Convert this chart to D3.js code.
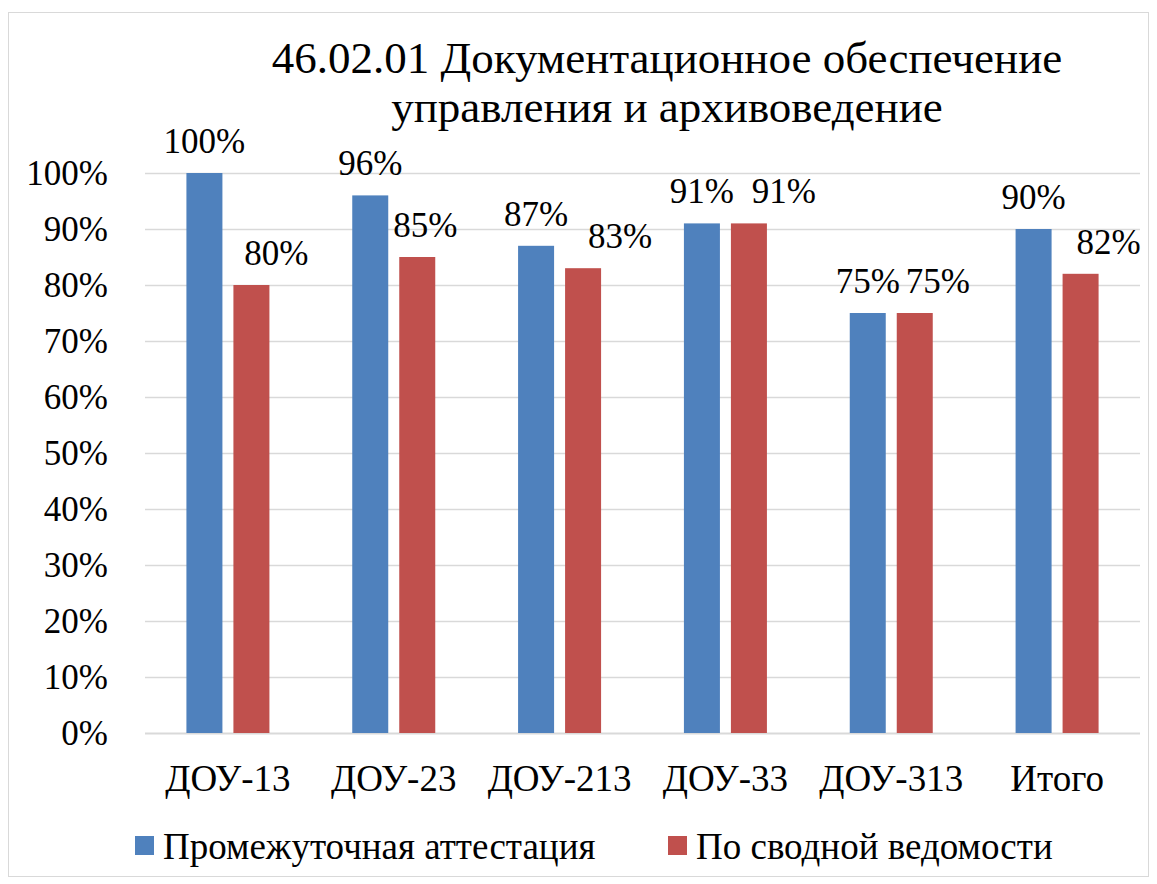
<!DOCTYPE html>
<html>
<head>
<meta charset="utf-8">
<script src="https://cdn.jsdelivr.net/npm/d3@7"></script>
<style>
  body { margin: 0; background: #fff; }
</style>
</head>
<body>
<div id="chart"></div>
<script>
// data
const categories = ['ДОУ-13', 'ДОУ-23', 'ДОУ-213', 'ДОУ-33', 'ДОУ-313', 'Итого'];
const seriesNames = ['Промежуточная аттестация', 'По сводной ведомости'];
const interim = [100, 96, 87, 91, 75, 90];
const summary = [80, 85, 83, 91, 75, 82];
const yTicks = [0, 10, 20, 30, 40, 50, 60, 70, 80, 90, 100];
const titleLines = ['46.02.01 Документационное обеспечение', 'управления и архивоведение'];

// Excel moved some labels sideways so they don't collide
const summaryLabelNudge = [25, 8, 37, 35, 23, 28];

const colors = ['#4F81BD', '#C0504D'];

var fontFamily = '"Liberation Serif", Tinos, "Times New Roman", "DejaVu Serif", serif';

var width = 1157, height = 884;
var plot = { left: 145, right: 1140, top: 173, bottom: 733 };

var svg = d3.select('#chart').append('svg')
  .attr('width', width)
  .attr('height', height)
  .attr('font-family', fontFamily);

// outer border
svg.append('rect')
  .attr('x', 8.5).attr('y', 12.5)
  .attr('width', 1140).attr('height', 864)
  .attr('fill', 'none')
  .attr('stroke', '#d9d9d9');

var x0 = d3.scaleBand()
  .domain(categories)
  .range([plot.left, plot.right])
  .padding(0);

var x1 = d3.scaleBand()
  .domain([0, 1])
  .range([-41.5, 41.5])
  .paddingInner(0.234);

var y = d3.scaleLinear()
  .domain([0, 100])
  .range([plot.bottom, plot.top]);

// gridlines
svg.append('g')
  .selectAll('line')
  .data(yTicks)
  .enter()
  .append('line')
    .attr('x1', plot.left).attr('x2', plot.right)
    .attr('y1', d => Math.round(y(d)) + 0.5)
    .attr('y2', d => Math.round(y(d)) + 0.5)
    .attr('stroke', '#d9d9d9')
    .attr('stroke-width', d => d === 0 ? 2 : 1.5);

// y tick labels
svg.append('g')
  .selectAll('text')
  .data(yTicks)
  .enter()
  .append('text')
    .attr('x', 108)
    .attr('y', d => y(d) + 12)
    .attr('text-anchor', 'end')
    .style('font-size', '35px')
    .text(d => d + '%');

// bars
var allSeries = [interim, summary];
allSeries.forEach(function (vals, s) {
  var g = svg.append('g');
  g.selectAll('rect')
    .data(vals)
    .enter()
    .append('rect')
      .attr('x', (d, i) => x0(categories[i]) + x0.bandwidth() / 2 + x1(s))
      .attr('y', d => y(d))
      .attr('width', x1.bandwidth())
      .attr('height', d => y(0) - y(d))
      .attr('fill', colors[s]);

  g.selectAll('text')
    .data(vals)
    .enter()
    .append('text')
      .attr('x', (d, i) => x0(categories[i]) + x0.bandwidth() / 2 + x1(s) + x1.bandwidth() / 2 + (s === 1 ? summaryLabelNudge[i] : 0))
      .attr('y', d => y(d) - 20)
      .attr('text-anchor', 'middle')
      .style('font-size', '35px')
      .text(d => d + '%');
});

// category labels
svg.append('g')
  .selectAll('text')
  .data(categories)
  .enter()
  .append('text')
    .attr('x', d => x0(d) + x0.bandwidth() / 2)
    .attr('y', 791)
    .attr('text-anchor', 'middle')
    .style('font-size', '37px')
    .text(d => d);

// title
svg.append('text')
  .attr('text-anchor', 'middle')
  .style('font-size', '45px')
  .selectAll('tspan')
  .data(titleLines)
  .enter()
  .append('tspan')
    .attr('x', 667)
    .attr('y', (d, i) => 73 + i * 49)
    .text(d => d);

// legend
var legendX = [135, 668];
var legend = svg.append('g');
seriesNames.forEach(function (name, i) {
  legend.append('rect')
    .attr('x', legendX[i]).attr('y', 836)
    .attr('width', 19).attr('height', 19)
    .attr('fill', colors[i]);
  legend.append('text')
    .attr('x', legendX[i] + 28)
    .attr('y', 859)
    .style('font-size', '37px')
    .text(name);
});
</script>
</body>
</html>
